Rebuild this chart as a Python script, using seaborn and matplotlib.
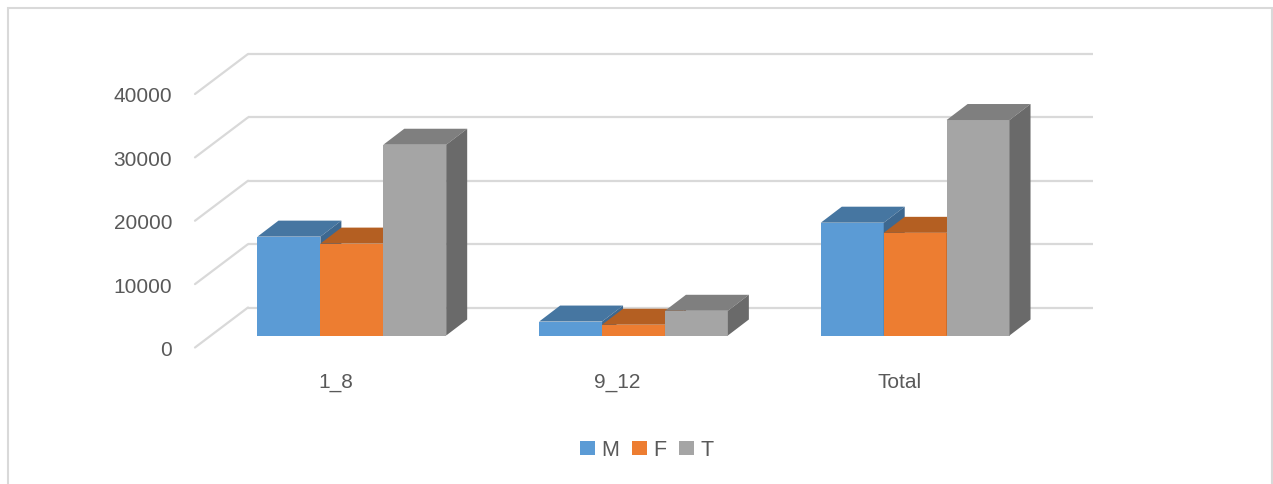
import numpy as np
import pandas as pd
import matplotlib
matplotlib.use("Agg")
import matplotlib.pyplot as plt
from matplotlib import transforms
from matplotlib.patches import Polygon, Patch, Rectangle
import seaborn as sns

# Enrolment by grade band and sex
categories = ["1_8", "9_12", "Total"]
series_names = ["M", "F", "T"]
values_m = [15600, 2200, 17800]
values_f = [14500, 1700, 16200]
values_t = [30100, 3900, 34000]
y_ticks = [0, 10000, 20000, 30000, 40000]

front_colors = ["#5B9BD5", "#ED7D31", "#A5A5A5"]
top_colors = ["#4676A1", "#B45F22", "#7F7F7F"]
side_colors = ["#3D6890", "#A0541E", "#6A6A6A"]
grid_color = "#D9D9D9"
text_color = "#595959"

df = pd.DataFrame({
    "group": categories * 3,
    "sex": [s for s in series_names for _ in categories],
    "count": values_m + values_f + values_t,
})

sns.set_theme(style="white")
plt.rcParams["font.family"] = ["Liberation Sans", "DejaVu Sans"]

W, H, DPI = 1273, 485, 100
fig = plt.figure(figsize=(W / DPI, H / DPI), dpi=DPI)
ax = fig.add_axes([211 / W, (H - 336.5) / H, 845 / W, 253.5 / H])

sns.barplot(data=df, x="group", y="count", hue="sex", order=categories,
            hue_order=series_names, palette=front_colors, saturation=1,
            width=0.67, legend=False, linewidth=0, ax=ax)

ax.set_xlim(-0.5, 2.5)
ax.set_ylim(0, 40000)
ax.set_xlabel("")
ax.set_ylabel("")
for s in ax.spines.values():
    s.set_visible(False)


def px(dx, dy):
    """Convert a pixel offset into data units along x and y."""
    p0 = ax.transData.transform((0, 0))
    q = ax.transData.inverted().transform(p0 + np.array([dx, dy]))
    return q[0], q[1]


# depth of the bars, of the back wall and of the front plane (pixels)
bdx, bdy = px(21, 16)
wdx, wdy = px(37, 28)
fdx, fdy = px(-16, -12)

# back wall gridlines and the side wall diagonals
for v in y_ticks:
    ax.plot([-0.5 + wdx, 2.5 + wdx], [v + wdy, v + wdy], color=grid_color,
            lw=1.6, clip_on=False, zorder=0.5, solid_capstyle="butt")
    ax.plot([-0.5 + fdx, -0.5 + wdx], [v + fdy, v + wdy], color=grid_color,
            lw=1.6, clip_on=False, zorder=0.5)

# extrude every bar into a box: top face and right side face
n_cat = len(categories)
for i, bar in enumerate(list(ax.patches)):
    k = i // n_cat
    x0 = bar.get_x()
    x1 = x0 + bar.get_width()
    h = bar.get_height()
    z = 2 + k
    bar.set_zorder(z)
    bar.set_clip_on(False)
    top = Polygon([(x0, h), (x1, h), (x1 + bdx, h + bdy), (x0 + bdx, h + bdy)],
                  closed=True, facecolor=top_colors[k], edgecolor="none",
                  zorder=z, clip_on=False)
    side = Polygon([(x1, 0), (x1, h), (x1 + bdx, h + bdy), (x1 + bdx, bdy)],
                   closed=True, facecolor=side_colors[k], edgecolor="none",
                   zorder=z, clip_on=False)
    ax.add_patch(top)
    ax.add_patch(side)

# tick labels sit on the front plane
ax.set_yticks(y_ticks)
ax.set_yticklabels([str(v) for v in y_ticks])
ax.tick_params(axis="y", length=0, pad=16.5, labelsize=15, labelcolor=text_color)
ax.tick_params(axis="x", length=0, pad=26, labelsize=15, labelcolor=text_color)

front_shift = transforms.ScaledTranslation(-16 / DPI, -12 / DPI, fig.dpi_scale_trans)
x_shift = transforms.ScaledTranslation(-16 / DPI, 0, fig.dpi_scale_trans)
for lbl in ax.get_yticklabels():
    lbl.set_transform(lbl.get_transform() + front_shift)
for lbl in ax.get_xticklabels():
    lbl.set_transform(lbl.get_transform() + x_shift)

# chart area border
fig.patches.append(Rectangle((8 / W, -0.1), (W - 1.5 - 8) / W, 1.1 - 9 / H,
                             transform=fig.transFigure, fill=False,
                             edgecolor=grid_color, lw=1.5))

handles = [Patch(facecolor=c, edgecolor="none") for c in front_colors]
fig.legend(handles, series_names, loc="center", bbox_to_anchor=(647 / W, 1 - 451 / H),
           ncol=3, frameon=False, fontsize=15.5, labelcolor=text_color,
           handlelength=0.68, handleheight=0.68, handletextpad=0.3,
           columnspacing=0.6)

fig.savefig("out.png", dpi=DPI, facecolor="white")
